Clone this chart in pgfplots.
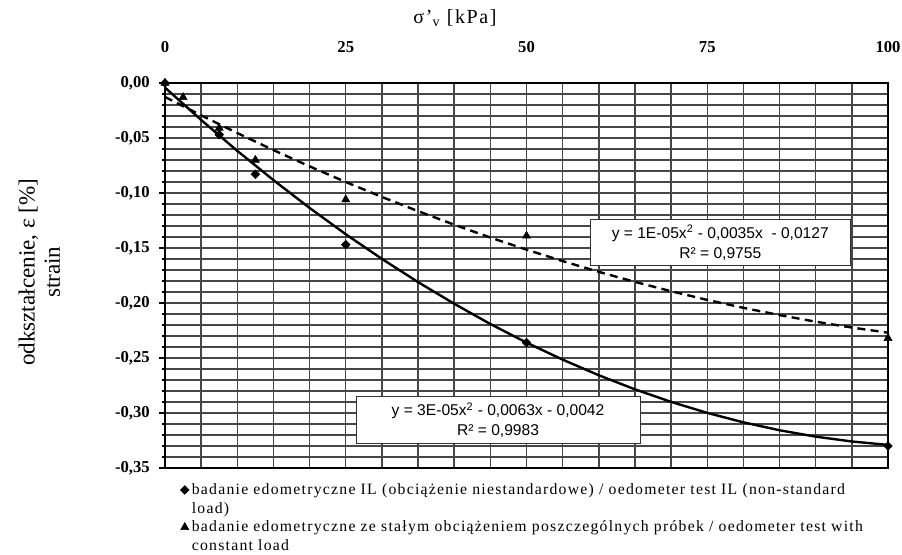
\documentclass[border=0pt]{standalone}
\usepackage{fontspec}
\setmainfont{Liberation Serif}
\newfontfamily\ls[LetterSpace=8]{Liberation Serif}
\newfontfamily\arial{Liberation Sans}
\usepackage{pgfplots}
\pgfplotsset{compat=1.18}

% badanie edometryczne IL (romby)
\pgfplotstableread{
x y
0 0
7.5 -0.047
12.5 -0.083
25 -0.147
50 -0.236
100 -0.330
}\ilpts
% obciazenie stale (trojkaty)
\pgfplotstableread{
x y
0 0
2.5 -0.013
7.5 -0.041
12.5 -0.070
25 -0.106
50 -0.139
100 -0.232
}\clpts
% linie trendu
\pgfplotstableread{
x y
0 -0.0042
5 -0.0336
10 -0.0617
15 -0.0883
20 -0.1136
25 -0.1375
30 -0.1599
35 -0.1810
40 -0.2007
45 -0.2191
50 -0.2360
55 -0.2515
60 -0.2657
65 -0.2785
70 -0.2899
75 -0.2999
80 -0.3085
85 -0.3157
90 -0.3215
95 -0.3259
100 -0.3290
}\iltrend
\pgfplotstableread{
x y
0 -0.0127
5 -0.0294
10 -0.0455
15 -0.0610
20 -0.0758
25 -0.0900
30 -0.1036
35 -0.1165
40 -0.1288
45 -0.1405
50 -0.1515
55 -0.1619
60 -0.1717
65 -0.1808
70 -0.1893
75 -0.1972
80 -0.2044
85 -0.2110
90 -0.2170
95 -0.2223
100 -0.2270
}\cltrend

\begin{document}
\begin{tikzpicture}
\begin{axis}[at={(123.75pt,65.25pt)}, anchor=south west,
  scale only axis, width=542.25pt, height=288.75pt,
  xmin=0, xmax=100, ymin=-0.35, ymax=0,
  xtick={0,25,50,75,100}, minor x tick num=4,
  ytick={-0.35,-0.3,-0.25,-0.2,-0.15,-0.1,-0.05,0}, minor y tick num=4,
  xticklabel pos=upper, ytick pos=left,
  grid=both,
  major grid style={black!72, line width=1.1pt},
  minor grid style={black!72, line width=1.1pt},
  axis line style={black, line width=1.1pt},
  tick align=outside, major tick length=4.5pt, minor tick length=2.5pt,
  tick style={black, line width=0.8pt},
  xtick style={draw=none},
  /pgf/number format/assume math mode=true,
  xticklabel style={font=\fontsize{12.5}{14}\selectfont\bfseries, anchor=center, inner sep=0pt, yshift=22.5pt},
  yticklabel style={font=\fontsize{12.5}{14}\selectfont\bfseries, anchor=east, inner sep=0pt, xshift=-6.75pt,
    /pgf/number format/.cd, fixed, fixed zerofill, precision=2, use comma},
  legend style={at={(0.021,-0.033)}, anchor=north west, draw=none, fill=none,
    font=\ls\fontsize{11.8}{14.25}\selectfont, row sep=0pt, inner sep=0pt,
    cells={anchor=base west, align=left}},
  legend image code/.code={\draw[#1] plot coordinates {(0.15cm,17.7pt)};},
]
\addplot[black, line width=1.8pt, forget plot] table {\iltrend};
\addplot[black, line width=1.8pt, dash pattern=on 6pt off 4pt, forget plot] table {\cltrend};
\addplot[only marks, mark=square*, mark size=2.3pt, mark options={rotate=45, fill=black, draw=black}] table {\ilpts};
\addlegendentry{badanie edometryczne IL (obciążenie niestandardowe) / oedometer test IL (non-standard\\load)}
\addplot[only marks, mark=triangle*, mark size=3.5pt, mark options={fill=black, draw=black}] table {\clpts};
\addlegendentry{badanie edometryczne ze stałym obciążeniem poszczególnych próbek / oedometer test with\\constant load}
\node[draw=black!80, fill=white, align=center, font=\arial\fontsize{11.7}{15}\selectfont,
  minimum width=195pt, minimum height=34.5pt, inner sep=2pt] at (axis cs:76.8,-0.1452)
  {y = 1E-05x\textsuperscript{2} - 0,0035x \ - 0,0127\\R² = 0,9755};
\node[draw=black!80, fill=white, align=center, font=\arial\fontsize{11.7}{15}\selectfont,
  minimum width=213pt, minimum height=35.25pt, inner sep=2pt] at (axis cs:46.06,-0.3065)
  {y = 3E-05x\textsuperscript{2} - 0,0063x - 0,0042\\R² = 0,9983};
\end{axis}
\node[font=\ls\fontsize{15}{17}\selectfont] at (341.25pt,402.75pt) {σ’\textsubscript{v} [kPa]};
\node[rotate=90, align=center, font=\fontsize{17.3}{19}\selectfont] at (29.5pt,212pt)
  {odkształcenie, ε [\%]\\strain};
\pgfresetboundingbox
\path (0,0) rectangle (676.5pt,416.25pt);
\end{tikzpicture}
\end{document}
